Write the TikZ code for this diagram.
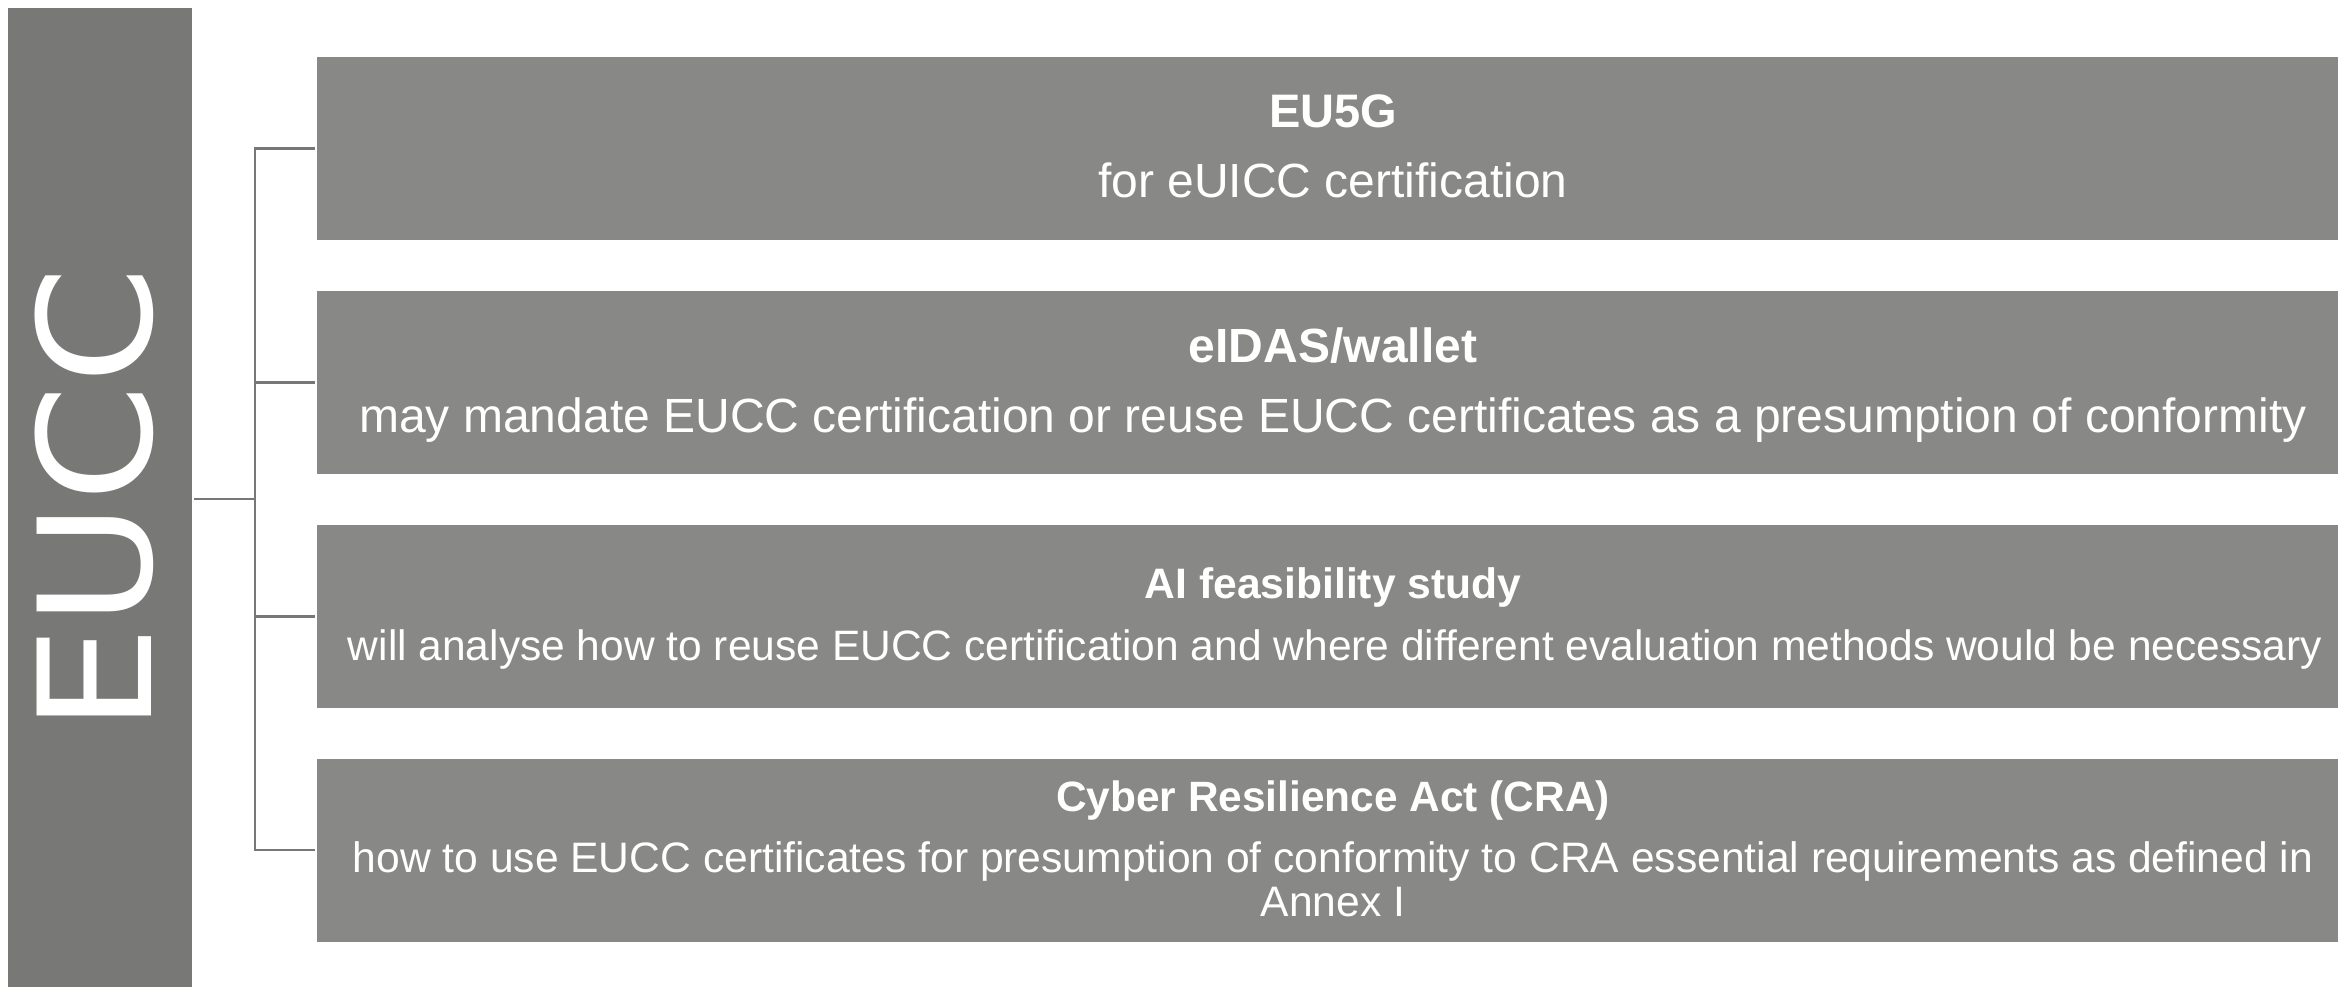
\documentclass[tikz,border=0pt]{standalone}
\usepackage{fontspec}
\usepackage{graphicx}
\setmainfont{Liberation Sans}
\newfontfamily\euccfont{DejaVu Sans}
\definecolor{barc}{HTML}{787877}
\definecolor{boxc}{HTML}{888886}
\definecolor{linec}{HTML}{777777}
\begin{document}
\begin{tikzpicture}[x=1pt,y=-1pt,
  barbox/.style={fill=barc, draw=none, minimum width=184.5pt, minimum height=979pt, anchor=north west, inner sep=0pt, outer sep=0pt},
  itembox/.style={fill=boxc, draw=none, minimum width=2032pt, minimum height=183pt, inner sep=0pt, outer sep=0pt},
  txt/.style={text=white, anchor=base, inner sep=0pt},
  conn/.style={draw=linec, line width=2.5pt}]
\useasboundingbox (0,0) rectangle (2338,986);
% left bar
\node[barbox] (bar) at (7.5,7.5) {};
\node[txt, rotate=90, font=\euccfont\fontsize{157}{157}\selectfont] (eucc) at (151,500) {\scalebox{1.075}[1]{EUCC}};
% boxes
\node[itembox] (b1) at (1333,148.5) {};
\node[itembox] (b2) at (1333,382.5) {};
\node[itembox] (b3) at (1333,616.5) {};
\node[itembox] (b4) at (1333,850) {};
% texts
\node[txt, font=\bfseries\fontsize{47}{50}\selectfont] (t1a) at (1333,127) {EU5G};
\node[txt, font=\fontsize{48}{50}\selectfont] (t1b) at (1333,197) {for eUICC certification};
\node[txt, font=\bfseries\fontsize{48}{50}\selectfont] (t2a) at (1333,362) {eIDAS/wallet};
\node[txt, font=\fontsize{48}{50}\selectfont] (t2b) at (1333,432) {may mandate EUCC certification or reuse EUCC certificates as a presumption of conformity};
\node[txt, font=\bfseries\fontsize{42.6}{45}\selectfont] (t3a) at (1333,598) {AI feasibility study};
\node[txt, font=\fontsize{42.5}{45}\selectfont] (t3b) at (1335,660) {will analyse how to reuse EUCC certification and where different evaluation methods would be necessary};
\node[txt, font=\bfseries\fontsize{42.4}{45}\selectfont] (t4a) at (1333,811) {Cyber Resilience Act (CRA)};
\node[txt, font=\fontsize{42.6}{45}\selectfont] (t4b) at (1333,872) {how to use EUCC certificates for presumption of conformity to CRA essential requirements as defined in};
\node[txt, font=\fontsize{42.6}{45}\selectfont] (t4c) at (1333,916) {Annex I};
% connectors
\coordinate (hub) at (255,499);
\draw[conn] (bar.east |- hub) ++(2,0) -- (hub);
\draw[conn] (hub) |- ([xshift=-2pt]b1.west);
\draw[conn] (hub) |- ([xshift=-2pt]b2.west);
\draw[conn] (hub) |- ([xshift=-2pt]b3.west);
\draw[conn] (hub) |- ([xshift=-2pt]b4.west);
\end{tikzpicture}
\end{document}
